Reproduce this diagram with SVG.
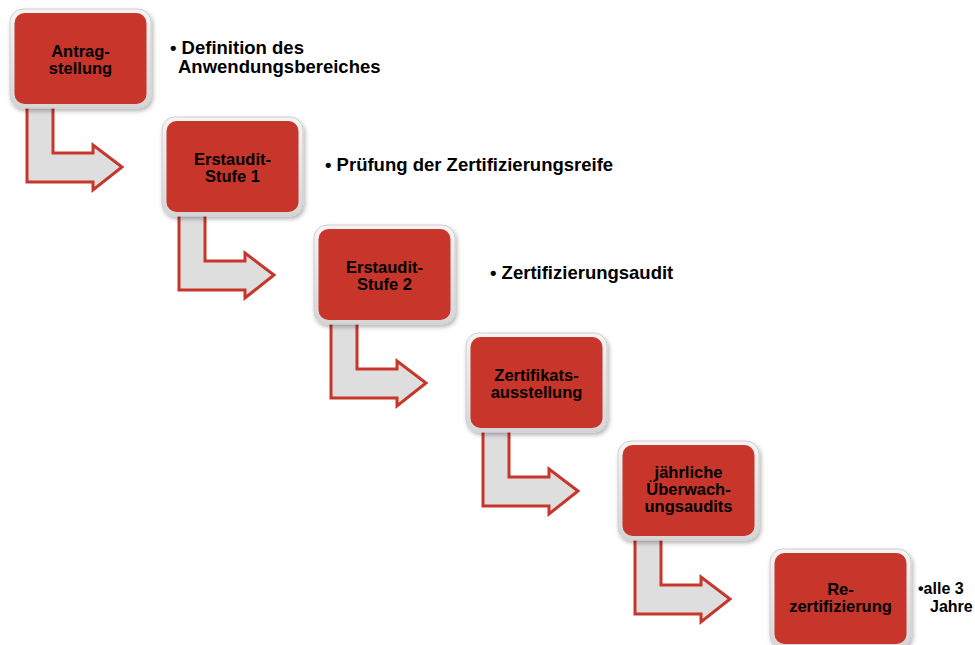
<svg xmlns="http://www.w3.org/2000/svg" width="975" height="645" viewBox="0 0 975 645">
<defs>
<linearGradient id="frame" x1="0" y1="0" x2="0" y2="1">
<stop offset="0" stop-color="#f4f4f4"/>
<stop offset="1" stop-color="#d6d6d6"/>
</linearGradient>
<filter id="sh" x="-10%" y="-10%" width="125%" height="130%">
<feDropShadow dx="1.5" dy="2.5" stdDeviation="2" flood-color="#000" flood-opacity="0.3"/>
</filter>
<polygon id="arr" points="17,95 43,95 43,144 83,144 83,136 112,158 83,181 83,173 17,173"/>
</defs>
<style>
.frame{fill:url(#frame);stroke:#cfcfcf;stroke-width:1;filter:url(#sh)}
.core{fill:#c8352a}
.lbl{font-family:"Liberation Sans",Arial,sans-serif;font-weight:bold;font-size:16.5px;fill:#000;text-anchor:middle}
.side{font-family:"Liberation Sans",Arial,sans-serif;font-weight:bold;font-size:18.5px;fill:#000}
.small{font-size:16px}
.arrow{fill:#dedede;stroke:#c8352a;stroke-width:3;stroke-linejoin:miter}
</style>
<g id="connectors">
<use href="#arr" class="arrow" x="10" y="9"/>
<use href="#arr" class="arrow" x="162" y="117"/>
<use href="#arr" class="arrow" x="314" y="225"/>
<use href="#arr" class="arrow" x="466" y="333"/>
<use href="#arr" class="arrow" x="618" y="441"/>
</g>
<g id="n1">
<rect class="frame" x="10" y="9" width="141" height="99" rx="13"/>
<rect class="core" x="14.5" y="13" width="132" height="91" rx="10"/>
<text class="lbl" x="80.5" y="56.5">Antrag-</text>
<text class="lbl" x="80.5" y="73.5">stellung</text>
</g>
<g id="n2">
<rect class="frame" x="162" y="117" width="141" height="99" rx="13"/>
<rect class="core" x="166.5" y="121" width="132" height="91" rx="10"/>
<text class="lbl" x="232.5" y="164.5">Erstaudit-</text>
<text class="lbl" x="232.5" y="181.5">Stufe 1</text>
</g>
<g id="n3">
<rect class="frame" x="314" y="225" width="141" height="99" rx="13"/>
<rect class="core" x="318.5" y="229" width="132" height="91" rx="10"/>
<text class="lbl" x="384.5" y="272.5">Erstaudit-</text>
<text class="lbl" x="384.5" y="289.5">Stufe 2</text>
</g>
<g id="n4">
<rect class="frame" x="466" y="333" width="141" height="99" rx="13"/>
<rect class="core" x="470.5" y="337" width="132" height="91" rx="10"/>
<text class="lbl" x="536.5" y="380.5">Zertifikats-</text>
<text class="lbl" x="536.5" y="397.5">ausstellung</text>
</g>
<g id="n5">
<rect class="frame" x="618" y="441" width="141" height="99" rx="13"/>
<rect class="core" x="622.5" y="445" width="132" height="91" rx="10"/>
<text class="lbl" x="688.5" y="478">jährliche</text>
<text class="lbl" x="688.5" y="495">Überwach-</text>
<text class="lbl" x="688.5" y="512">ungsaudits</text>
</g>
<g id="n6">
<rect class="frame" x="770" y="549" width="141" height="99" rx="13"/>
<rect class="core" x="774.5" y="553" width="132" height="91" rx="10"/>
<text class="lbl" x="840.5" y="595">Re-</text>
<text class="lbl" x="840.5" y="612">zertifizierung</text>
</g>
<g id="notes">
<text class="side" x="170" y="54">• Definition des</text>
<text class="side" x="178" y="73">Anwendungsbereiches</text>
<text class="side" x="325" y="171">• Prüfung der Zertifizierungsreife</text>
<text class="side" x="490" y="279">• Zertifizierungsaudit</text>
<text class="side small" x="918" y="594">•alle 3</text>
<text class="side small" x="930" y="612">Jahre</text>
</g>
</svg>
